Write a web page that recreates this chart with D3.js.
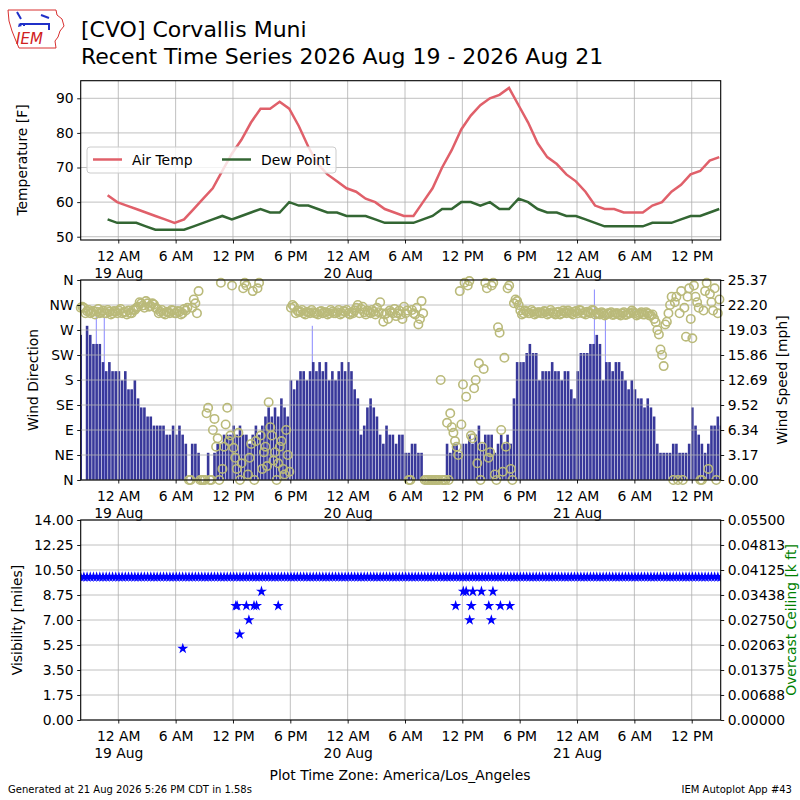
<!DOCTYPE html>
<html><head><meta charset="utf-8">
<script src="https://cdn.jsdelivr.net/npm/d3@7"></script>
<style>
body{margin:0;background:#fff}
svg{display:block}
text{font-family:"DejaVu Sans",sans-serif;fill:#000}
</style>
</head><body>
<svg id="c" width="800" height="800"></svg>
<script>
// ---------------- DATA ----------------
const titleLine1 = "[CVO] Corvallis Muni";
const titleLine2 = "Recent Time Series 2026 Aug 19 - 2026 Aug 21";
const xDomain = ["2026-08-18 20:04", "2026-08-21 15:02"];
const xTickTimes = ["2026-08-19 00:00","2026-08-19 06:00","2026-08-19 12:00","2026-08-19 18:00",
  "2026-08-20 00:00","2026-08-20 06:00","2026-08-20 12:00","2026-08-20 18:00",
  "2026-08-21 00:00","2026-08-21 06:00","2026-08-21 12:00"];
const xTickLabels = [["12 AM","19 Aug"],["6 AM"],["12 PM"],["6 PM"],["12 AM","20 Aug"],["6 AM"],["12 PM"],["6 PM"],
  ["12 AM","21 Aug"],["6 AM"],["12 PM"]];

// hourly observations starting at tempStart
const tempStart = "2026-08-18 22:53";
const airTemp = [62,60,59,58,57,56,55,54,55,58,61,64,69,74,78,83,87,87,89,87,82,76,71,68,66,
  64,63,61,60,58,57,56,56,60,64,70,75,81,85,88,90,91,93,88,83,77,73,71,68,
  66,63,59,58,58,57,57,57,59,60,63,65,68,69,72,73];
const dewPoint = [55,54,54,54,53,52,52,52,52,53,54,55,56,55,56,57,58,57,57,60,59,59,58,57,57,
  56,56,56,55,54,54,54,54,55,56,58,58,60,60,59,60,58,58,61,60,58,57,57,56,
  56,55,54,53,53,53,53,53,54,54,54,55,56,56,57,58];
const tempTicks = [50,60,70,80,90];
const tempLimits = [49.05, 95.09];

// wind observations every 20 minutes starting at windStart
const windStart = "2026-08-18 20:04";
const windSpeedKt = [
  16,null,17,16,15,15,15,13,12,13,
  12,12,12,11,12,10,10,11,9,8,
  8,7,7,6,6,6,6,5,5,6,
  5,6,5,4,0,4,4,3,0,0,
  3,0,3,4,4,5,5,5,6,5,
  6,5,5,4,5,6,5,6,7,8,
  7,8,7,9,8,7,11,10,11,12,
  12,11,12,13,12,13,12,13,11,12,
  11,12,13,12,13,12,10,9,5,6,
  8,9,8,7,5,4,6,5,5,4,
  5,5,3,3,4,4,3,3,0,0,
  0,0,0,0,0,4,3,4,4,3,
  4,4,5,4,5,6,4,5,5,5,
  3,4,5,4,5,4,9,13,13,13,
  14,15,14,14,11,12,12,12,13,12,
  12,11,12,12,10,9,12,14,14,14,
  15,15,16,15,11,13,13,12,13,13,
  12,11,10,11,10,9,9,8,9,8,
  7,4,3,3,3,3,4,4,3,3,
  3,4,8,6,5,4,3,4,6,6,
  7,6];
// direction at each wind observation
const windDirDeg = [
  310,310,304,300,304,303,300,305,300,303,
  300,303,305,300,303,305,300,306,312,318,
  310,318,313,316,308,303,300,303,300,305,
  300,303,300,305,0,310,318,340,0,0,
  130,0,110,75,355,60,130,80,58,20,
  0,345,350,40,340,70,355,20,60,140,
  80,50,30,70,10,45,310,312,305,303,
  300,303,300,302,300,303,300,302,300,303,
  300,306,300,303,300,302,305,315,308,302,
  305,300,303,310,320,285,300,305,300,295,
  305,290,300,0,306,298,280,322,0,0,
  0,0,0,180,0,103,120,85,60,340,
  172,150,358,75,180,210,60,355,40,350,
  10,275,90,220,345,20,318,322,305,300,
  303,300,303,300,302,300,303,300,302,298,
  303,300,302,305,300,303,300,305,300,303,
  300,305,300,298,300,298,300,297,300,298,
  300,297,300,305,300,298,302,298,300,296,
  290,270,235,205,285,315,0,330,300,0,
  258,345,255,330,310,0,340,20,320,345,
  300,330];
// intermediate direction reports, 10 minutes after each observation above
const windDirDegMid = [
  312,300,306,302,298,308,302,300,306,298,
  304,300,308,302,298,300,306,310,320,314,
  322,312,318,310,300,306,298,302,306,300,
  304,298,308,310,0,325,300,0,0,120,
  0,90,60,0,20,100,70,350,40,85,
  30,355,10,65,0,345,80,50,25,95,
  35,0,60,20,90,15,315,300,302,306,
  298,302,306,300,298,304,302,298,306,300,
  302,298,304,306,298,300,310,300,312,298,
  302,306,298,302,300,298,290,302,308,300,
  298,312,305,0,300,310,290,300,0,0,
  0,0,0,0,0,0,95,70,45,100,
  355,350,80,165,30,0,200,345,50,355,
  0,265,15,60,350,0,325,315,298,305,
  300,306,298,302,300,304,298,306,300,302,
  298,305,300,302,298,304,306,300,298,302,
  306,298,300,302,296,300,302,298,300,296,
  302,298,300,302,296,300,298,302,296,298,
  284,262,225,280,300,330,320,0,340,310,
  330,290,350,320,0,305,355,335,305,0,
  325,340];
const gustTimes = ["2026-08-18 21:42","2026-08-18 22:32","2026-08-19 20:18","2026-08-21 01:49","2026-08-21 02:58"];
const gustKt = [18,18,17,21,18];
const dirTickLabels = ["N","NE","E","SE","S","SW","W","NW","N"];
const speedMaxMph = 25.375;
const speedTickLabels = ["0.00","3.17","6.34","9.52","12.69","15.86","19.03","22.20","25.37"];

// visibility (miles) reported with each wind observation
const visibilityMiles = [
  10,10,10,10,10,10,10,10,10,10,10,10,10,10,10,10,10,10,10,10,
  10,10,10,10,10,10,10,10,10,10,10,10,10,10,10,10,10,10,10,10,
  10,10,10,10,10,10,10,10,10,10,10,10,10,10,10,10,10,10,10,10,
  10,10,10,10,10,10,10,10,10,10,10,10,10,10,10,10,10,10,10,10,
  10,10,10,10,10,10,10,10,10,10,10,10,10,10,10,10,10,10,10,10,
  10,10,10,10,10,10,10,10,10,10,10,10,10,10,10,10,10,10,10,10,
  10,10,10,10,10,10,10,10,10,10,10,10,10,10,10,10,10,10,10,10,
  10,10,10,10,10,10,10,10,10,10,10,10,10,10,10,10,10,10,10,10,
  10,10,10,10,10,10,10,10,10,10,10,10,10,10,10,10,10,10,10,10,
  10,10,10,10,10,10,10,10,10,10,10,10,10,10,10,10,10,10,10,10,
  10,10];
// reduced visibility reports
const visLowTimes = ["2026-08-19 06:45","2026-08-19 12:18","2026-08-19 12:26","2026-08-19 12:42","2026-08-19 13:24",
  "2026-08-19 13:40","2026-08-19 14:12","2026-08-19 14:28","2026-08-19 14:59","2026-08-19 16:44",
  "2026-08-20 11:18","2026-08-20 12:06","2026-08-20 12:24","2026-08-20 12:46","2026-08-20 12:56",
  "2026-08-20 13:06","2026-08-20 14:00","2026-08-20 14:46","2026-08-20 15:02","2026-08-20 15:12",
  "2026-08-20 15:59","2026-08-20 16:58"];
const visLowMiles = [5,8,8,6,8,7,8,8,9,8, 8,9,9,7,8,9,9,8,7,9,8,8];
const visTicks = [0,1.75,3.5,5.25,7,8.75,10.5,12.25,14];
const ceilTickLabels = ["0.00000","0.00688","0.01375","0.02063","0.02750","0.03438","0.04125","0.04813","0.05500"];

// ---------------- DRAW ----------------
const svg = d3.select("#c");
const parse = d3.utcParse("%Y-%m-%d %H:%M");
const L = 80.7, R = 720.7;
const FS = 13.9;
const x = d3.scaleUtc().domain(xDomain.map(parse)).range([L, R]);
const tickDates = xTickTimes.map(parse);
const MIN = 60e3, HOUR = 3600e3;
const tempTimes = airTemp.map((_, i) => new Date(+parse(tempStart) + i * HOUR));
const windTimes = windSpeedKt.map((_, i) => new Date(+parse(windStart) + i * 20 * MIN));
const windTimesMid = windDirDegMid.map((_, i) => new Date(+parse(windStart) + (i * 20 + 10) * MIN));
const KT2MPH = 1.15078;

// Logo
const logo = svg.append("g");
logo.append("path").attr("d","M8,10 L56,10 L57,15 L62,19 L64,26 L60,31 L58,37 L55,41 L56,48 L19,48 L16,41 L12,31 L9,21 Z")
  .attr("fill","none").attr("stroke","#d83030").attr("stroke-width",1);
logo.append("path").attr("d","M20,24 L50,24 M17,12 L21,19 M41,15 L49,18 M49,24 L49,30 M24,24 L24,26")
  .attr("stroke","#2030c8").attr("stroke-width",2).attr("fill","none");
logo.append("path").attr("d","M19,23 L22,26 L18,27 Z").attr("fill","#2030c8");
logo.append("text").attr("x",16).attr("y",44).attr("font-family","Liberation Serif").attr("font-style","italic")
  .attr("font-size",15).style("fill","#d02020").text("IEM");

svg.append("text").attr("x",81).attr("y",37).attr("font-size",22).text(titleLine1);
svg.append("text").attr("x",81).attr("y",64).attr("font-size",22).text(titleLine2);

function panel(top, bottom) {
  const g = svg.append("g");
  const id = "clip" + Math.round(top);
  svg.append("clipPath").attr("id", id).append("rect").attr("x", L).attr("y", top).attr("width", R - L).attr("height", bottom - top);
  return {g, clip: "url(#" + id + ")", top, bottom};
}
function drawXGrid(p) {
  p.g.append("g").selectAll("line").data(tickDates).join("line")
    .attr("x1", d => x(d)).attr("x2", d => x(d)).attr("y1", p.top).attr("y2", p.bottom)
    .attr("stroke", "#b0b0b0").attr("stroke-width", 0.8);
}
function drawYGrid(p, y, vals) {
  p.g.append("g").selectAll("line").data(vals).join("line")
    .attr("x1", L).attr("x2", R).attr("y1", d => y(d)).attr("y2", d => y(d))
    .attr("stroke", "#b0b0b0").attr("stroke-width", 0.8);
}
function drawXAxis(p) {
  const ax = p.g.append("g").attr("transform", `translate(0,${p.bottom})`)
    .call(d3.axisBottom(x).tickValues(tickDates).tickSize(3.5).tickFormat(() => ""));
  ax.select(".domain").remove();
  ax.selectAll(".tick line").attr("stroke", "#000").attr("stroke-width", 0.9);
  ax.selectAll(".tick text").each(function(d, i) {
    const t = d3.select(this).attr("dy", null).attr("y", null).attr("font-size", FS).style("font-family", "DejaVu Sans");
    xTickLabels[i].forEach((ln, j) => t.append("tspan").attr("x", 0).attr("y", 21 + j * 16.7).text(ln));
  });
}
function drawYAxisLeft(p, y, vals, labels) {
  const ax = p.g.append("g").attr("transform", `translate(${L},0)`)
    .call(d3.axisLeft(y).tickValues(vals).tickSize(3.5).tickPadding(3.5).tickFormat((d, i) => labels[i]));
  ax.select(".domain").remove();
  ax.selectAll(".tick line").attr("stroke", "#000").attr("stroke-width", 0.9);
  ax.selectAll(".tick text").attr("font-size", FS).style("font-family", "DejaVu Sans");
}
function drawYAxisRight(p, y, vals, labels) {
  const ax = p.g.append("g").attr("transform", `translate(${R},0)`)
    .call(d3.axisRight(y).tickValues(vals).tickSize(3.5).tickPadding(3.5).tickFormat((d, i) => labels[i]));
  ax.select(".domain").remove();
  ax.selectAll(".tick line").attr("stroke", "#000").attr("stroke-width", 0.9);
  ax.selectAll(".tick text").attr("font-size", FS).style("font-family", "DejaVu Sans");
}
function frame(p) {
  p.g.append("rect").attr("x", L).attr("y", p.top).attr("width", R - L).attr("height", p.bottom - p.top)
    .attr("fill", "none").attr("stroke", "#000").attr("stroke-width", 1.1);
}
function vLabel(text, cx, cy, color) {
  svg.append("text").attr("transform", `translate(${cx},${cy}) rotate(-90)`).attr("text-anchor", "middle")
    .attr("dominant-baseline", "central").attr("font-size", FS).style("fill", color || "#000").text(text);
}

// ---- Panel 1: temperature ----
const p1 = panel(80.7, 240);
const yT = d3.scaleLinear().domain(tempLimits).range([p1.bottom, p1.top]);
drawXGrid(p1); drawYGrid(p1, yT, tempTicks);
const lineT = d3.line().x((d, i) => x(tempTimes[i])).y(d => yT(d));
p1.g.append("path").datum(airTemp).attr("d", lineT).attr("fill", "none").attr("stroke", "#e0606a").attr("stroke-width", 2.5).attr("clip-path", p1.clip);
p1.g.append("path").datum(dewPoint).attr("d", lineT).attr("fill", "none").attr("stroke", "#336633").attr("stroke-width", 2.5).attr("clip-path", p1.clip);
drawXAxis(p1); drawYAxisLeft(p1, yT, tempTicks, tempTicks.map(String)); frame(p1);
vLabel("Temperature [F]", 22, 160);
// legend
const lg = p1.g.append("g");
lg.append("rect").attr("x", 87).attr("y", 147).attr("width", 249).attr("height", 26).attr("rx", 3)
  .attr("fill", "#fff").attr("fill-opacity", 0.8).attr("stroke", "#cccccc").attr("stroke-width", 1);
[["Air Temp", "#e0606a", 93], ["Dew Point", "#336633", 222]].forEach(([lab, col, lx]) => {
  lg.append("line").attr("x1", lx).attr("x2", lx + 29).attr("y1", 159.5).attr("y2", 159.5).attr("stroke", col).attr("stroke-width", 2.5);
  lg.append("text").attr("x", lx + 39).attr("y", 164.5).attr("font-size", FS).text(lab);
});

// ---- Panel 2: wind ----
const p2 = panel(280, 480);
const yDir = d3.scaleLinear().domain([0, 360]).range([p2.bottom, p2.top]);
const ySpd = d3.scaleLinear().domain([0, speedMaxMph]).range([p2.bottom, p2.top]);
const dirTicks = d3.range(0, 361, 45);
const spdTicks = speedTickLabels.map((_, i) => i * speedMaxMph / 8);
const barW = 2.6;
const wg = p2.g.append("g").attr("clip-path", p2.clip);
wg.selectAll("line.gust").data(gustKt).join("line").attr("class", "gust")
  .attr("x1", (d, i) => x(parse(gustTimes[i]))).attr("x2", (d, i) => x(parse(gustTimes[i])))
  .attr("y1", ySpd(0)).attr("y2", d => ySpd(d * KT2MPH)).attr("stroke", "#8888ff").attr("stroke-width", 1);
const windPts = windSpeedKt.map((s, i) => ({t: windTimes[i], s, d: windDirDeg[i]}));
wg.selectAll("rect").data(windPts.filter(d => d.s !== null)).join("rect")
  .attr("x", d => x(d.t) - barW / 2).attr("width", barW)
  .attr("y", d => ySpd(d.s * KT2MPH)).attr("height", d => ySpd(0) - ySpd(d.s * KT2MPH))
  .attr("fill", "#38389a");
drawXGrid(p2); drawYGrid(p2, yDir, dirTicks);
const dirPts = windPts.map(d => ({t: d.t, d: d.d}))
  .concat(windDirDegMid.map((d, i) => ({t: windTimesMid[i], d})))
  .filter(d => d.t >= x.domain()[0] && d.t <= x.domain()[1]);
p2.g.append("g").selectAll("circle").data(dirPts).join("circle")
  .attr("cx", d => x(d.t)).attr("cy", d => yDir(d.d)).attr("r", 4.2)
  .attr("fill", "none").attr("stroke", "#baba7a").attr("stroke-width", 1.6);
drawXAxis(p2); drawYAxisLeft(p2, yDir, dirTicks, dirTickLabels); drawYAxisRight(p2, ySpd, spdTicks, speedTickLabels); frame(p2);
vLabel("Wind Direction", 33, 380);
vLabel("Wind Speed [mph]", 782, 380);

// ---- Panel 3: visibility ----
const p3 = panel(520, 720);
const yVis = d3.scaleLinear().domain([0, 14]).range([p3.bottom, p3.top]);
const yCeil = d3.scaleLinear().domain([0, 0.055]).range([p3.bottom, p3.top]);
drawXGrid(p3); drawYGrid(p3, yVis, visTicks);
const star = d3.symbol().type(d3.symbolStar).size(38);
const vg = p3.g.append("g").attr("clip-path", p3.clip);
vg.selectAll("path.vb").data(visibilityMiles).join("path").attr("class", "vb")
  .attr("transform", (d, i) => `translate(${x(windTimes[i])},${yVis(d)})`).attr("d", star).attr("fill", "#0000ff");
vg.selectAll("path.vl").data(visLowMiles).join("path").attr("class", "vl")
  .attr("transform", (d, i) => `translate(${x(parse(visLowTimes[i]))},${yVis(d)})`).attr("d", star).attr("fill", "#0000ff");
drawXAxis(p3); drawYAxisLeft(p3, yVis, visTicks, visTicks.map(v => v.toFixed(2)));
drawYAxisRight(p3, yCeil, ceilTickLabels.map(Number), ceilTickLabels); frame(p3);
vLabel("Visibility [miles]", 17, 620);
vLabel("Overcast Ceiling [k ft]", 791, 620, "#008000");

svg.append("text").attr("x", 400).attr("y", 780).attr("text-anchor", "middle").attr("font-size", FS).text("Plot Time Zone: America/Los_Angeles");
svg.append("text").attr("x", 8).attr("y", 793).attr("font-size", 10).text("Generated at 21 Aug 2026 5:26 PM CDT in 1.58s");
svg.append("text").attr("x", 792).attr("y", 793).attr("text-anchor", "end").attr("font-size", 10).text("IEM Autoplot App #43");
</script>
</body></html>
